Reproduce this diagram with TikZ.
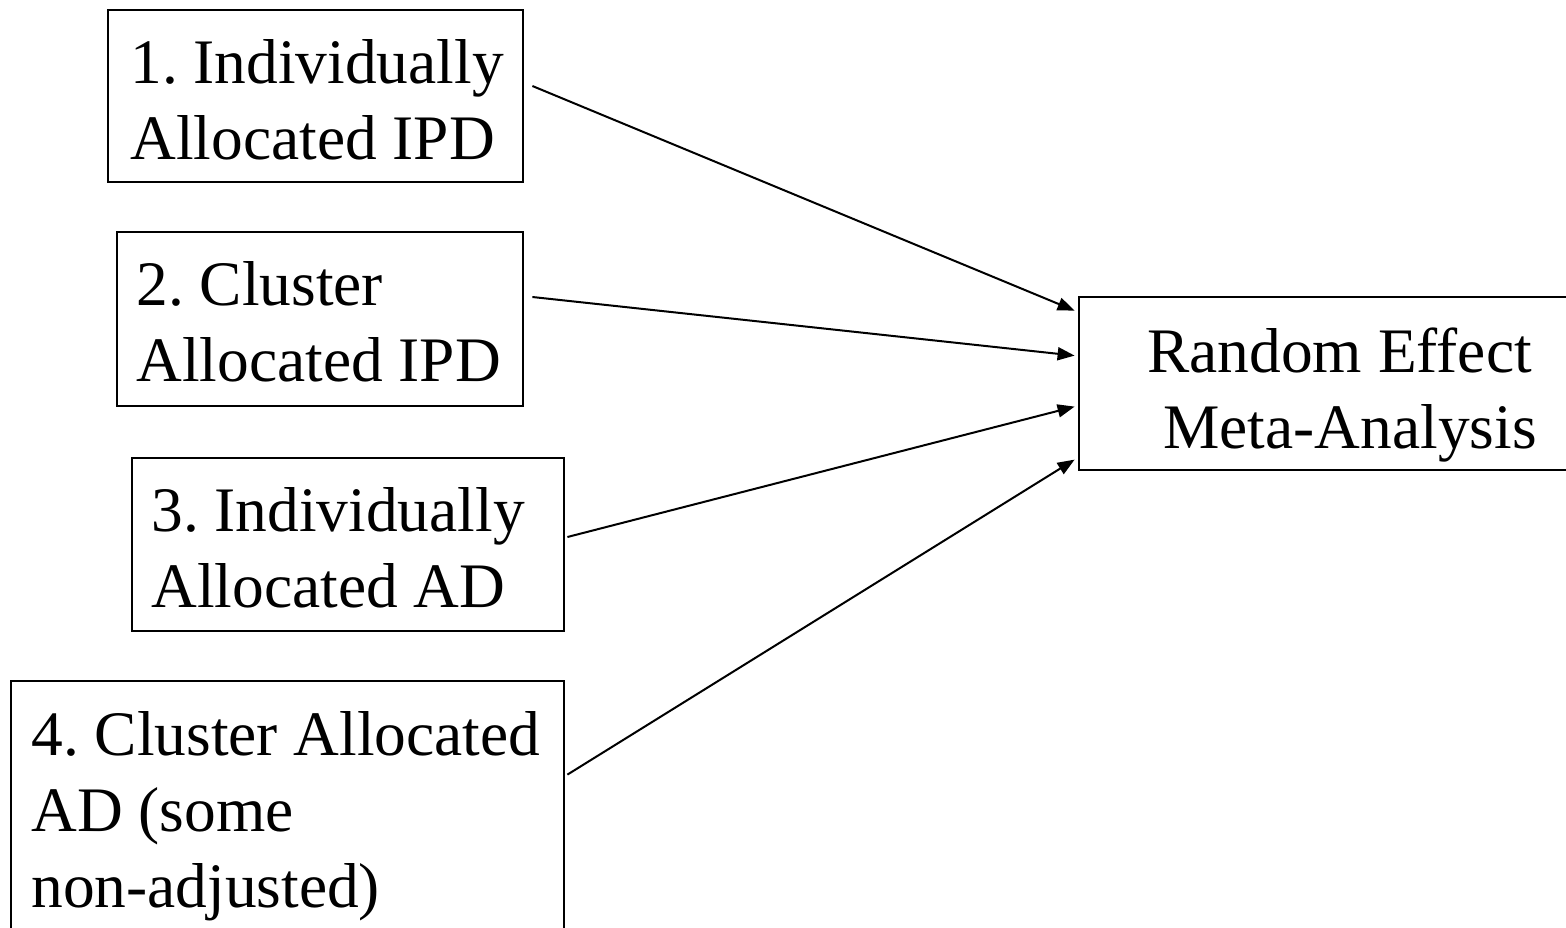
\documentclass[tikz,border=0pt]{standalone}
\usepackage{fontspec}
\setmainfont{Liberation Serif}
\usetikzlibrary{arrows.meta,calc,fit}

\begin{document}
\frenchspacing
\begin{tikzpicture}[x=0.5pt,y=-0.5pt,
  box/.style={draw=black,line width=1.4pt,inner sep=0pt,fill=none},
  lbl/.style={anchor=base west,inner sep=0pt,font=\fontsize{31.7pt}{38pt}\selectfont},
  arr/.style={line width=1pt,-{Triangle[length=8.5pt,width=6.5pt]}}]
\useasboundingbox (0,0) rectangle (1566,927);
\clip (0,0) rectangle (1566,927);

% source boxes
\node[box,fit={(108,10) (523,182)}] (b1) {};
\node[box,fit={(117,232) (523,406)}] (b2) {};
\node[box,fit={(132,458) (564,631)}] (b3) {};
\node[box,fit={(11,681) (564,960)}] (b4) {};
% target box
\node[box,fit={(1079,297) (1600,470)}] (b5) {};

% labels
\node[lbl] (t1a) at (130,83) {1. Individually};
\node[lbl] (t1b) at (130,159) {Allocated IPD};
\node[lbl] (t2a) at (136,305) {2. Cluster};
\node[lbl] (t2b) at (136,381) {Allocated IPD};
\node[lbl] (t3a) at (151,531) {3. Individually};
\node[lbl] (t3b) at (151,607) {Allocated AD};
\node[lbl] (t4a) at (31,755) {4. Cluster Allocated};
\node[lbl] (t4b) at (31,831) {AD (some};
\node[lbl] (t4c) at (31,907) {non-adjusted)};
\node[lbl] (t5a) at (1147,372) {Random Effect};
\node[lbl] (t5b) at (1163,448) {Meta-Analysis};

% connectors
\draw[arr] ($(b1.east)+(8,-10)$) -- ($(b5.north west)+(-3,15)$);
\draw[arr] ($(b2.east)+(8,-22)$) -- ($(b5.north west)+(-3,60)$);
\draw[arr] ($(b3.east)+(2,-7.5)$) -- ($(b5.north west)+(-3,111)$);
\draw[arr] ($(b4.north east)+(2,95)$) -- ($(b5.north west)+(-3,164)$);
\end{tikzpicture}
\end{document}
